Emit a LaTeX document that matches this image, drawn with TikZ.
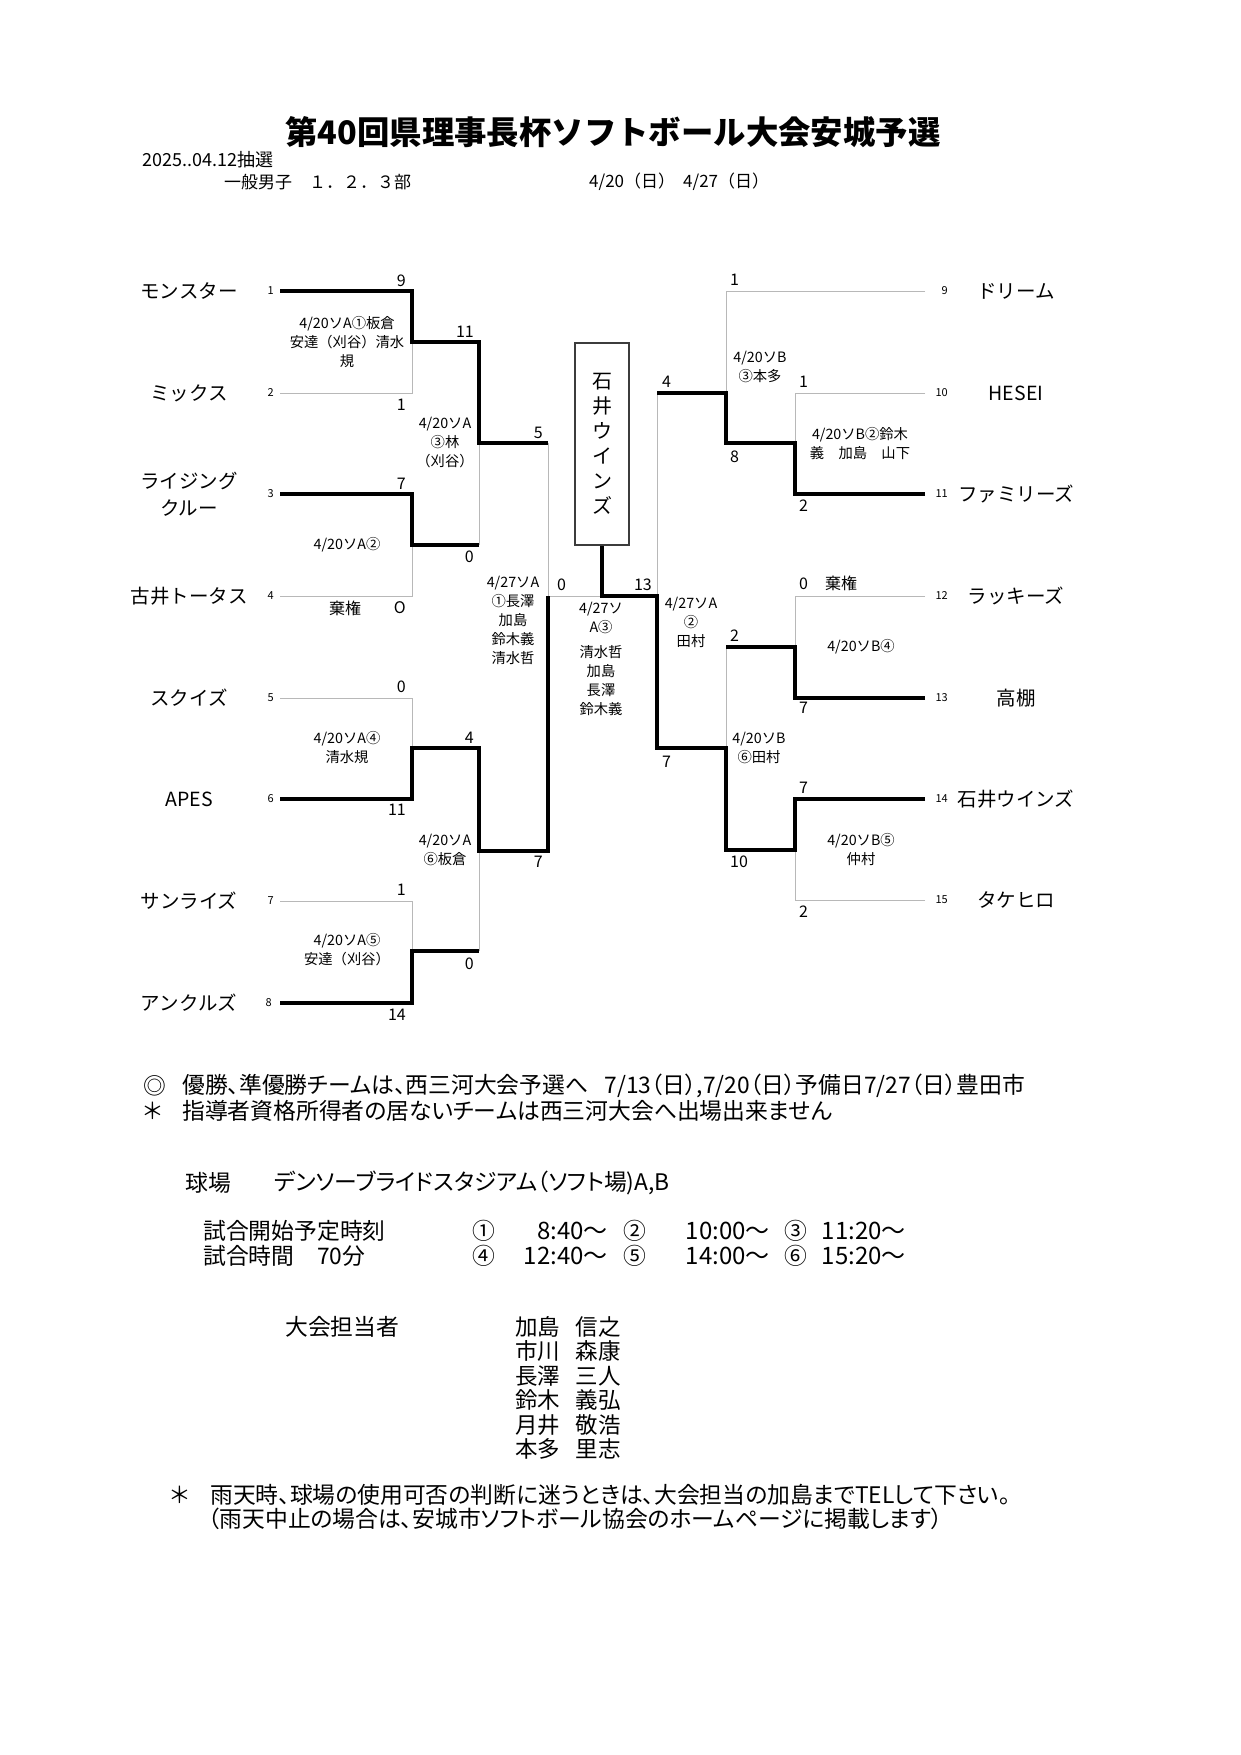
\documentclass[tikz,border=0pt]{standalone}
\usepackage{fontspec}
\setmainfont{Noto Sans CJK JP}
\newfontfamily\propfont{Noto Sans CJK JP}[RawFeature=+palt]
\usetikzlibrary{positioning}
\definecolor{lineGray}{HTML}{B8B8B8}
\definecolor{boxGray}{HTML}{3C3C3C}
\tikzset{
  team/.style ={font=\fontsize{19.5}{27}\selectfont,align=center,inner sep=0pt},
  seed/.style ={font=\fontsize{11}{12}\selectfont,inner sep=0pt},
  score/.style={font=\fontsize{16}{16}\selectfont,inner sep=0pt},
  game/.style ={font=\fontsize{14.3}{19}\selectfont,align=center,inner sep=0pt},
  head/.style ={font=\fontsize{18}{20}\selectfont,anchor=west,inner sep=0pt},
  note/.style ={font=\propfont\fontsize{22.8}{24}\selectfont,anchor=west,inner sep=0pt},
  clock/.style={font=\fontsize{24}{24}\selectfont,anchor=east,inner sep=0pt},
  staff/.style={font=\fontsize{22.5}{24}\selectfont,inner sep=0pt,minimum height=24pt},
  won/.style  ={line width=3.3pt,line join=miter},
  lost/.style ={line width=1pt,lineGray},
}
\begin{document}
\begin{tikzpicture}[x=1pt,y=-1pt]
  \fill[white] (0,0) rectangle (1241,1755);
  \useasboundingbox (0,0) rectangle (1241,1755);

  % header
  \node[font=\fontsize{32.4}{40}\selectfont\bfseries,inner sep=0pt] (title) at (613,132) {第40回県理事長杯ソフトボール大会安城予選};
  \node[head] (lot) at (142,160) {2025..04.12抽選};
  \node[head,font=\fontsize{17}{20}\selectfont] (div) at (224,182) {一般男子　１．２．３部};
  \node[head,font=\fontsize{17}{20}\selectfont] (day1) at (589,182) {4/20（日）};
  \node[head,font=\fontsize{17}{20}\selectfont] (day2) at (683,182) {4/27（日）};

  % teams, left
  \node[team] (tm1) at (189,291) {モンスター};
  \node[team] (tm2) at (189,393) {ミックス};
  \node[team] (tm3) at (189,494) {ライジング\\クルー};
  \node[team] (tm4) at (189,596) {古井トータス};
  \node[team] (tm5) at (189,698) {スクイズ};
  \node[team] (tm6) at (189,799) {APES};
  \node[team] (tm7) at (189,901) {サンライズ};
  \node[team] (tm8) at (189,1003) {アンクルズ};
  % teams, right
  \node[team] (tm9) at (1016,291) {ドリーム};
  \node[team] (tm10) at (1016,393) {HESEI};
  \node[team] (tm11) at (1016,494) {ファミリーズ};
  \node[team] (tm12) at (1016,596) {ラッキーズ};
  \node[team] (tm13) at (1016,698) {高棚};
  \node[team] (tm14) at (1016,799) {石井ウインズ};
  \node[team] (tm15) at (1016,900) {タケヒロ};

  % line ends
  \coordinate (t1) at (280,291);  \coordinate (t2) at (280,393);
  \coordinate (t3) at (280,494);  \coordinate (t4) at (280,596);
  \coordinate (t5) at (280,698);  \coordinate (t6) at (280,799);
  \coordinate (t7) at (280,901);  \coordinate (t8) at (280,1003);
  \coordinate (t9) at (925,291);  \coordinate (t10) at (925,393);
  \coordinate (t11) at (925,494); \coordinate (t12) at (925,596);
  \coordinate (t13) at (925,698); \coordinate (t14) at (925,799);
  \coordinate (t15) at (925,900);

  \node[seed,left=6pt of t1] (sd1) {1};
  \node[seed,left=6pt of t2] (sd2) {2};
  \node[seed,left=6pt of t3] (sd3) {3};
  \node[seed,left=6pt of t4] (sd4) {4};
  \node[seed,left=6pt of t5] (sd5) {5};
  \node[seed,left=6pt of t6] (sd6) {6};
  \node[seed,left=6pt of t7] (sd7) {7};
  \node[seed,left=8pt of t8] (sd8) {8};
  \node[seed,anchor=east] (sd9) at (948,291) {9};
  \node[seed,anchor=east] (sd10) at (948,393) {10};
  \node[seed,anchor=east] (sd11) at (948,494) {11};
  \node[seed,anchor=east] (sd12) at (948,596) {12};
  \node[seed,anchor=east] (sd13) at (948,698) {13};
  \node[seed,anchor=east] (sd14) at (948,799) {14};
  \node[seed,anchor=east] (sd15) at (948,900) {15};

  % junctions
  \coordinate (j1) at (412,342); \coordinate (j2) at (412,545);
  \coordinate (j3) at (412,748); \coordinate (j4) at (412,951);
  \coordinate (k1) at (479,443); \coordinate (k2) at (479,851);
  \coordinate (l1) at (548,596);
  \coordinate (jr1) at (795,443); \coordinate (jr2) at (795,647);
  \coordinate (jr3) at (795,850);
  \coordinate (kr1) at (726,393); \coordinate (kr2) at (726,748);
  \coordinate (lr) at (657,596);

  % champion box
  \node[draw=boxGray,line width=1.5pt,minimum width=54pt,minimum height=202pt,inner sep=0pt,
        align=center,font=\fontsize{20}{25}\selectfont] (champ) at (602,444) {石\\井\\ウ\\イ\\ン\\ズ};
  \coordinate (fin) at (champ.south |- l1);

  % losers
  \draw[lost] (t2) -| (j1);
  \draw[lost] (t4) -| (j2);
  \draw[lost] (t5) -| (j3);
  \draw[lost] (t7) -| (j4);
  \draw[lost] (j2 -| k1) -- (k1);
  \draw[lost] (j4 -| k2) -- (k2);
  \draw[lost] (k1 -| l1) -- (l1) -- (fin);
  \draw[lost] (t9) -| (kr1);
  \draw[lost] (t10) -| (jr1);
  \draw[lost] (t12) -| (jr2);
  \draw[lost] (t15) -| (jr3);
  \draw[lost] (jr2 -| kr2) -- (kr2);
  \draw[lost] (kr1 -| lr) -- (lr);

  % winners
  \draw[won] (t1) -| (j1) -| (k1) -- (k1 -| l1);
  \draw[won] (t3) -| (j2) -- (j2 -| k1);
  \draw[won] (t6) -| (j3) -| (k2) -| (l1);
  \draw[won] (t8) -| (j4) -- (j4 -| k2);
  \draw[won] (t11) -| (jr1) -| (kr1) -- (kr1 -| lr);
  \draw[won] (t13) -| (jr2) -- (jr2 -| kr2);
  \draw[won] (t14) -| (jr3) -| (kr2) -| (lr) -- (fin) -- (champ.south);

  % scores, left
  \node[score,anchor=east] (s1) at (406,281) {9};
  \node[score,anchor=east] (s2) at (406,405) {1};
  \node[score,anchor=east] (s3) at (406,484) {7};
  \node[score,anchor=east] (s4) at (406,608) {O};
  \node[score] (fw4) at (345,608) {棄権};
  \node[score,anchor=east] (s5) at (406,687) {0};
  \node[score,anchor=east] (s6) at (406,810) {11};
  \node[score,anchor=east] (s7) at (406,890) {1};
  \node[score,anchor=east] (s8) at (406,1015) {14};
  \node[score,anchor=east] (s12) at (474,332) {11};
  \node[score,anchor=east] (s34) at (474,557) {0};
  \node[score,anchor=east] (s56) at (474,738) {4};
  \node[score,anchor=east] (s78) at (474,964) {0};
  \node[score,anchor=east] (sa) at (543,433) {5};
  \node[score,anchor=east] (sb) at (543,862) {7};
  \node[score,anchor=west] (sl) at (557,585) {0};
  % scores, right
  \node[score,anchor=east] (sr) at (652,585) {13};
  \node[score,anchor=west] (s10) at (799,382) {1};
  \node[score,anchor=west] (s11) at (799,506) {2};
  \node[score,anchor=west] (s12r) at (799,584) {0};
  \node[score] (fw12) at (841,583) {棄権};
  \node[score,anchor=west] (s13) at (799,708) {7};
  \node[score,anchor=west] (s14) at (799,788) {7};
  \node[score,anchor=west] (s15) at (799,912) {2};
  \node[score,anchor=west] (s9) at (730,280) {1};
  \node[score,anchor=west] (s1011) at (730,457) {8};
  \node[score,anchor=west] (s1213) at (730,636) {2};
  \node[score,anchor=west] (s1415) at (730,862) {10};
  \node[score,anchor=west] (sc) at (662,382) {4};
  \node[score,anchor=west] (sd) at (662,762) {7};

  % games
  \node[game] (g1) at (347,342) {4/20ソA①板倉\\安達（刈谷）清水\\規};
  \node[game] (g2) at (347,545) {4/20ソA②};
  \node[game] (g3) at (445,443) {4/20ソA\\③林\\（刈谷）};
  \node[game] (g4) at (347,748) {4/20ソA④\\清水規};
  \node[game] (g5) at (347,950) {4/20ソA⑤\\安達（刈谷）};
  \node[game] (g6) at (445,850) {4/20ソA\\⑥板倉};
  \node[game] (g7) at (513,620) {4/27ソA\\①長澤\\加島\\鈴木義\\清水哲};
  \node[game] (g8) at (601,659) {4/27ソ\\A③\\[6pt]清水哲\\加島\\長澤\\鈴木義};
  \node[game] (g9) at (691,622) {4/27ソA\\②\\田村};
  \node[game] (gr1) at (760,367) {4/20ソB\\③本多};
  \node[game] (gr2) at (860,444) {4/20ソB②鈴木\\義　加島　山下};
  \node[game] (gr3) at (759,748) {4/20ソB\\⑥田村};
  \node[game] (gr4) at (861,647) {4/20ソB④};
  \node[game] (gr5) at (861,850) {4/20ソB⑤\\仲村};

  % notes
  \node[note] (mk1) at (143,1086) {◎};
  \node[note] (nt1) at (182,1086) {優勝、準優勝チームは、西三河大会予選へ\hspace{0.7em}7/13（日）,7/20（日）予備日7/27（日）豊田市};
  \node[note] (mk2) at (143,1111) {＊};
  \node[note] (nt2) at (182,1111) {指導者資格所得者の居ないチームは西三河大会へ出場出来ません};
  \node[note] (fld) at (185,1183) {球場};
  \node[note] (fldv) at (274,1183) {デンソーブライドスタジアム（ソフト場)A,B};
  \node[note] (st) at (203,1231) {試合開始予定時刻};
  \node[note] (du) at (203,1256) {試合時間\hspace{1em}70分};
  \node[note] (c1) at (472,1231) {①};
  \node[clock] (h1) at (608,1231) {8:40～};
  \node[note] (c2) at (623,1231) {②};
  \node[clock] (h2) at (770,1231) {10:00～};
  \node[note] (c3) at (784,1231) {③};
  \node[clock] (h3) at (906,1231) {11:20～};
  \node[note] (c4) at (472,1256) {④};
  \node[clock] (h4) at (608,1256) {12:40～};
  \node[note] (c5) at (623,1256) {⑤};
  \node[clock] (h5) at (770,1256) {14:00～};
  \node[note] (c6) at (784,1256) {⑥};
  \node[clock] (h6) at (906,1256) {15:20～};
  \node[note] (mgr) at (285,1327) {大会担当者};
  \node[staff,anchor=west] (p1) at (515,1327) {加島\hspace{0.7em}信之};
  \node[staff,below=0pt of p1] (p2) {市川\hspace{0.7em}森康};
  \node[staff,below=0pt of p2] (p3) {長澤\hspace{0.7em}三人};
  \node[staff,below=0pt of p3] (p4) {鈴木\hspace{0.7em}義弘};
  \node[staff,below=0pt of p4] (p5) {月井\hspace{0.7em}敬浩};
  \node[staff,below=0pt of p5] (p6) {本多\hspace{0.7em}里志};
  \node[note] (mk3) at (170,1495) {＊};
  \node[note] (rn1) at (210,1495) {雨天時、球場の使用可否の判断に迷うときは、大会担当の加島までTELして下さい。};
  \node[note] (rn2) at (208,1519) {（雨天中止の場合は、安城市ソフトボール協会のホームページに掲載します）};
\end{tikzpicture}
\end{document}
